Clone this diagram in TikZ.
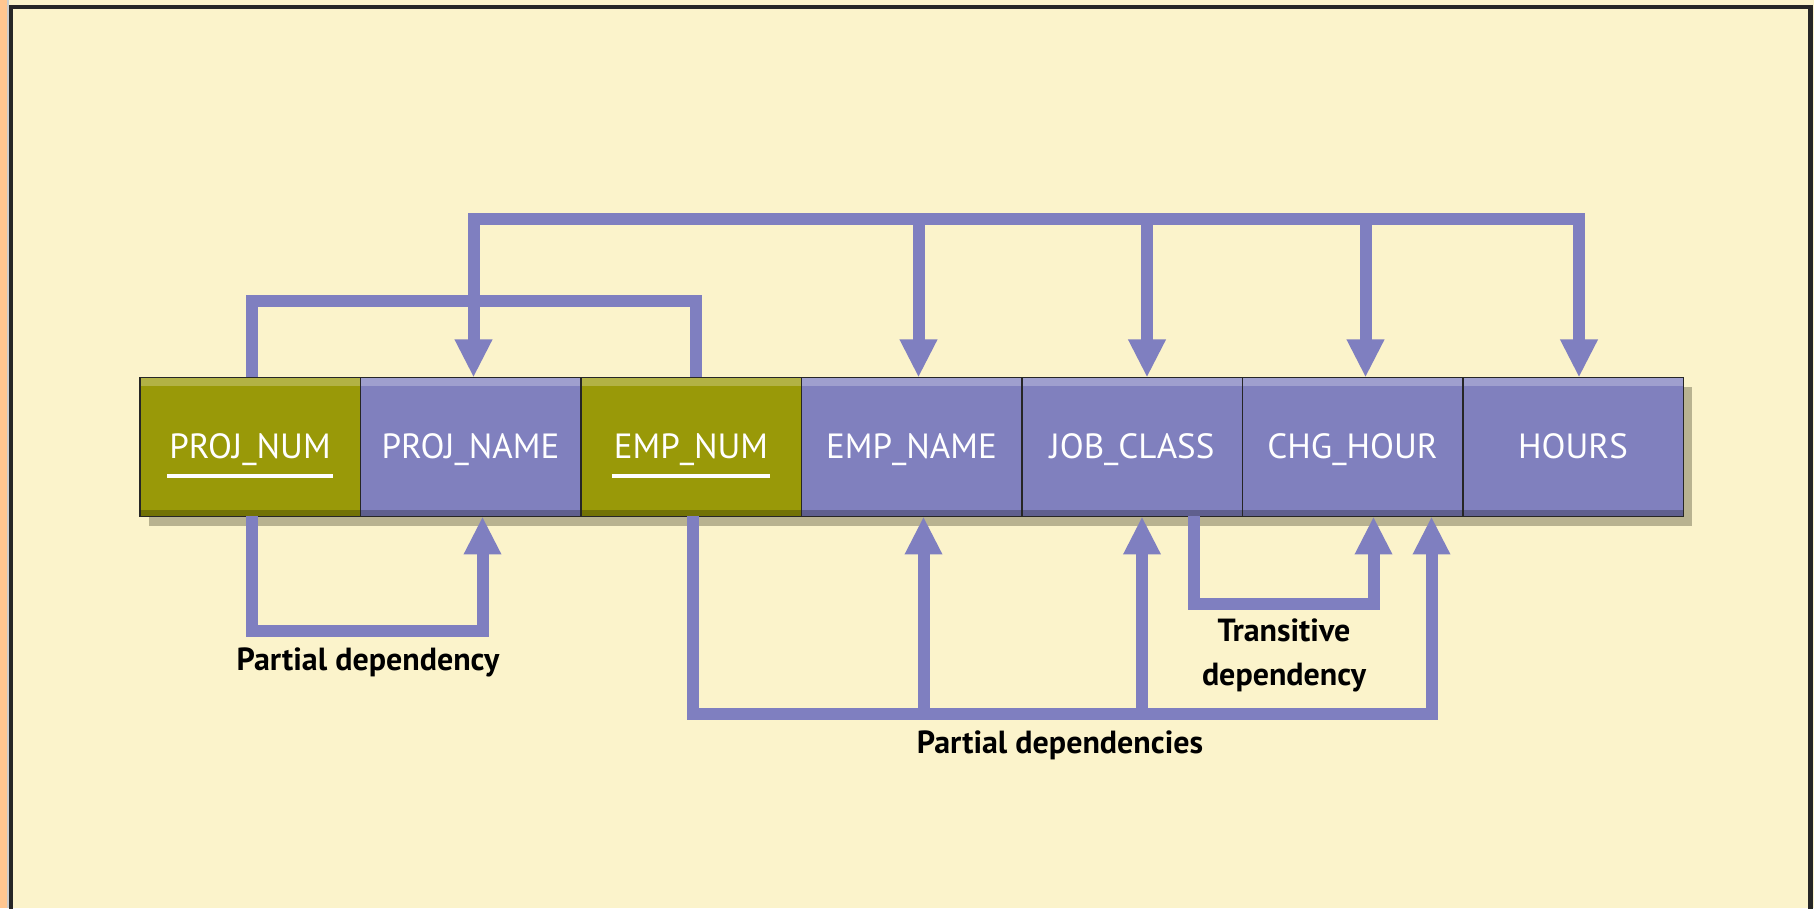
\documentclass[tikz,border=0pt]{standalone}
\usepackage{fontspec}
\setmainfont{PT Sans}
\usepackage{xcolor}
\usetikzlibrary{positioning,arrows.meta,shadows}

\definecolor{paper}{HTML}{FBF3CB}
\definecolor{edgeorange}{HTML}{FFC690}
\definecolor{keyolive}{HTML}{999908}
\definecolor{attrblue}{HTML}{8080BE}
\definecolor{linkblue}{HTML}{7F7FC0}
\definecolor{shadowtan}{HTML}{B8B290}

% white bar under a key attribute
\newsavebox{\keybox}
\newcommand{\keyname}[1]{\sbox{\keybox}{#1}\rlap{\kern-2pt\smash{\raisebox{-19pt}{\rule{\dimexpr\wd\keybox+4pt\relax}{4pt}}}}\usebox{\keybox}}

\begin{document}
\begin{tikzpicture}[
    x                = 1pt,
    y                = 1pt,
    attr/.style      = {draw=black!85, line width=1.5pt, outer sep=0pt, inner sep=0pt,
                        minimum width=220.5pt, minimum height=139pt,
                        text height=24pt, text depth=0pt,
                        text=white, font=\fontsize{35}{40}\selectfont, fill=attrblue,
                        drop shadow={shadow xshift=9pt, shadow yshift=-10pt, fill=shadowtan, opacity=1},
                        path picture={
                          \fill[white, opacity=.25] (path picture bounding box.north west)
                            rectangle ([yshift=-9pt]path picture bounding box.north east);
                          \fill[black, opacity=.25] (path picture bounding box.south west)
                            rectangle ([yshift=6pt]path picture bounding box.south east);}},
    keyattr/.style   = {attr, fill=keyolive},
    link/.style      = {draw=linkblue, line width=12pt},
    dep/.style       = {link, -{Triangle[width=35pt,length=38pt]}},
    deps/.style      = {link, {Triangle[width=35pt,length=38pt]}-{Triangle[width=35pt,length=38pt]}},
    deptext/.style   = {font=\bfseries\fontsize{32}{44}\selectfont, align=center, inner sep=0pt}
  ]
\useasboundingbox (0,0) rectangle (1814,908);
\fill[paper] (0,0) rectangle (1814,908);
\fill[edgeorange] (0,0) rectangle (7,908);
\fill[black!20] (7,0) rectangle (9,908);
\draw[black!85, line width=4.5pt] (11,-10) |- (1810.5,901) -- (1810.5,-10);

% the relation
\node[keyattr] (pnum) at (250,461) {\keyname{PROJ\_NUM}};
\node[attr, right=0pt of pnum]    (pname)  {PROJ\_NAME};
\node[keyattr, right=0pt of pname] (enum)  {\keyname{EMP\_NUM}};
\node[attr, right=0pt of enum]    (ename)  {EMP\_NAME};
\node[attr, right=0pt of ename]   (jclass) {JOB\_CLASS};
\node[attr, right=0pt of jclass]  (chour)  {CHG\_HOUR};
\node[attr, right=0pt of chour]   (hours)  {HOURS};

% full dependency on the key
\draw[link] ([xshift=2pt]pnum.north) -- ++(0,76) -| ([xshift=5pt]enum.north);
\draw[deps] ([xshift=3pt]pname.north) -- ++(0,158) -| ([xshift=6pt]hours.north);
\foreach \n/\s in {ename/7, jclass/15, chour/13}
  \draw[dep] ([xshift=\s pt]\n.north) ++(0,158) -- ([xshift=\s pt]\n.north);

% partial and transitive dependencies
\draw[dep] ([xshift=2pt]pnum.south) -- ++(0,-115) -| ([xshift=12pt]pname.south);
\draw[dep] ([xshift=2pt]enum.south) -- ++(0,-197) -| ([xshift=79pt]chour.south);
\foreach \n/\s in {ename/12, jclass/10}
  \draw[dep] ([xshift=\s pt]\n.south) ++(0,-197) -- ([xshift=\s pt]\n.south);
\draw[dep] ([xshift=62pt]jclass.south) -- ++(0,-88) -| ([xshift=21pt]chour.south);

\node[deptext] (partone) at (368,246) {Partial dependency};
\node[deptext] (partall) at (1060,163) {Partial dependencies};
\node[deptext] (trans)   at (1284,253) {Transitive\\dependency};
\end{tikzpicture}
\end{document}
